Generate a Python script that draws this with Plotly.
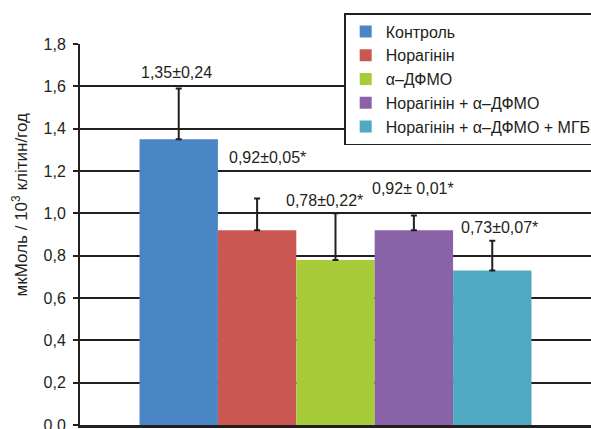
import plotly.graph_objects as go

groups = ["Контроль", "Норагінін", "α–ДФМО", "Норагінін + α–ДФМО", "Норагінін + α–ДФМО + МГБГ"]
means = [1.35, 0.92, 0.78, 0.92, 0.73]
errors_drawn = [0.24, 0.15, 0.22, 0.07, 0.14]
labels = ["1,35±0,24", "0,92±0,05*", "0,78±0,22*", "0,92± 0,01*", "0,73±0,07*"]
colors = ["#4a86c6", "#cb5752", "#a8cb3a", "#8a62a8", "#4fa9c2"]
y_ticks = [0, 0.2, 0.4, 0.6, 0.8, 1.0, 1.2, 1.4, 1.6, 1.8]

FONT = "Liberation Sans Narrow, Arial Narrow, Liberation Sans, Arial, sans-serif"
DARK = "#231f20"

fig = go.Figure()
for g, m, e, c in zip(groups, means, errors_drawn, colors):
    fig.add_trace(go.Bar(
        x=[0], y=[m], name=g,
        marker=dict(color=c, line=dict(width=0)),
        error_y=dict(type="data", array=[e], symmetric=False, arrayminus=[0],
                     color=DARK, thickness=2, width=3),
    ))

label_xshift = [-159, -68, -11, 77, 164]
label_yshift = [16, 41, 13, 27, 13]
for lab, m, e, xs, ys in zip(labels, means, errors_drawn, label_xshift, label_yshift):
    fig.add_annotation(x=0, y=m + e, text=lab, showarrow=False,
                       xanchor="center", yanchor="middle", xshift=xs, yshift=ys,
                       font=dict(family=FONT, size=16, color=DARK))

fig.add_annotation(xref="paper", yref="paper", x=-0.117, y=0.577,
                   text="мкМоль / 10<sup>3</sup> клітин/год", textangle=-90,
                   showarrow=False, xanchor="center", yanchor="middle",
                   font=dict(family=FONT, size=17, color=DARK))

fig.update_layout(
    width=591, height=429,
    margin=dict(l=80, r=0, t=44, b=4, autoexpand=False),
    paper_bgcolor="white", plot_bgcolor="white",
    barmode="group", bargap=0.233, bargroupgap=0,
    separators=",.",
    font=dict(family=FONT, size=16, color=DARK),
    showlegend=True,
    legend=dict(x=0.517, y=(425 - 13) / 381, xref="paper", yref="paper",
                xanchor="left", yanchor="top",
                bgcolor="white", bordercolor=DARK, borderwidth=1.5,
                font=dict(family=FONT, size=16, color=DARK),
                traceorder="normal", itemclick=False, itemwidth=30),
    xaxis=dict(range=[-0.5, 0.5], showticklabels=False, showgrid=False, zeroline=False,
               showline=True, linecolor=DARK, linewidth=3, ticks=""),
    yaxis=dict(range=[0, 1.8], tickvals=y_ticks, tickformat=".1f",
               showgrid=True, gridcolor=DARK, gridwidth=1.5, zeroline=False,
               showline=True, linecolor=DARK, linewidth=2,
               ticks="outside", ticklen=5, tickwidth=1.5, tickcolor=DARK,
               ticklabelstandoff=4, ticklabeloverflow="allow",
               tickfont=dict(family=FONT, size=16, color=DARK)),
)

fig.write_html("out.html", config={"displayModeBar": False},
               post_script="document.body.style.margin='0';document.body.style.overflow='hidden';")
